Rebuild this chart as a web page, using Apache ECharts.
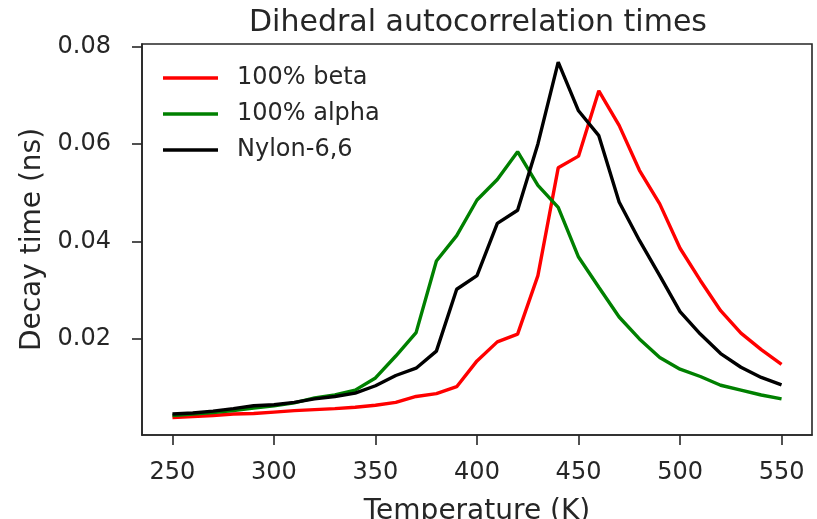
<!DOCTYPE html>
<html>
<head>
<meta charset="utf-8">
<script src="https://cdn.jsdelivr.net/npm/echarts@6/dist/echarts.min.js"></script>
<style>
  html, body { margin: 0; padding: 0; background: #fff; }
  #chart { width: 817px; height: 519px; }
</style>
</head>
<body>
<div id="chart"></div>
<script>
const temps = [250, 260, 270, 280, 290, 300, 310, 320, 330, 340, 350, 360, 370, 380, 390, 400,
  410, 420, 430, 440, 450, 460, 470, 480, 490, 500, 510, 520, 530, 540, 550];

const beta = [0.0039, 0.0041, 0.0043, 0.0046, 0.0047, 0.0050, 0.0053, 0.0055, 0.0057, 0.0060,
  0.0064, 0.0070, 0.0082, 0.0088, 0.0102, 0.0155, 0.0194, 0.0210, 0.0330, 0.0551,
  0.0575, 0.0709, 0.0638, 0.0546, 0.0477, 0.0386, 0.0320, 0.0258, 0.0212, 0.0178, 0.0148];

const alpha = [0.0043, 0.0046, 0.0049, 0.0053, 0.0058, 0.0063, 0.0069, 0.0079, 0.0085, 0.0095,
  0.0120, 0.0165, 0.0213, 0.0360, 0.0412, 0.0485, 0.0527, 0.0584, 0.0515, 0.0470,
  0.0368, 0.0306, 0.0245, 0.0200, 0.0162, 0.0138, 0.0123, 0.0105, 0.0095, 0.0085, 0.0077];

const nylon = [0.0046, 0.0048, 0.0052, 0.0057, 0.0063, 0.0065, 0.0070, 0.0077, 0.0082, 0.0089,
  0.0104, 0.0125, 0.0140, 0.0175, 0.0302, 0.0330, 0.0437, 0.0464, 0.0600, 0.0768,
  0.0668, 0.0617, 0.0481, 0.0402, 0.0330, 0.0256, 0.0210, 0.0170, 0.0142, 0.0121, 0.0106];

const xTicks = [250, 300, 350, 400, 450, 500, 550];
const yTicks = [0.02, 0.04, 0.06, 0.08];

const seriesDefs = [
  { name: "100% beta", data: beta, color: "#ff0000" },
  { name: "100% alpha", data: alpha, color: "#008000" },
  { name: "Nylon-6,6", data: nylon, color: "#000000" },
];

const ink = "#262626";
const font = "DejaVu Sans";

const chart = echarts.init(document.getElementById("chart"), null, { renderer: "canvas" });
chart.setOption({
  animation: false,
  textStyle: { fontFamily: font },
  title: {
    text: "Dihedral autocorrelation times",
    left: 478,
    top: 8,
    padding: 0,
    textAlign: "center",
    textStyle: { fontFamily: font, fontSize: 30, fontWeight: "normal", color: ink },
  },
  legend: {
    orient: "vertical",
    left: 163,
    top: 65,
    padding: 0,
    itemGap: 10,
    itemWidth: 55,
    itemHeight: 3.5,
    icon: "rect",
    data: seriesDefs.map((s) => s.name),
    textStyle: {
      fontFamily: font,
      fontSize: 24,
      lineHeight: 26,
      color: ink,
      padding: [0, 0, 0, 14],
    },
  },
  grid: {
    left: 142,
    right: 5,
    top: 44,
    bottom: 84,
    outerBoundsMode: "none",
    show: true,
    borderColor: ink,
    borderWidth: 1.6,
  },
  xAxis: {
    type: "value",
    min: 235,
    max: 565,
    name: "Temperature (K)",
    nameLocation: "middle",
    nameGap: 63,
    nameTextStyle: { fontFamily: font, fontSize: 28, color: ink },
    axisLine: { show: true, lineStyle: { color: ink, width: 1.6 } },
    axisTick: { show: true, length: 10, customValues: xTicks, lineStyle: { color: ink, width: 1.6 } },
    axisLabel: {
      customValues: xTicks,
      margin: 26,
      fontFamily: font,
      fontSize: 24,
      color: ink,
    },
    splitLine: { show: false },
  },
  yAxis: {
    type: "value",
    min: 0.0003,
    max: 0.0805,
    name: "Decay time (ns)",
    nameLocation: "middle",
    nameGap: 92,
    nameTextStyle: { fontFamily: font, fontSize: 28, color: ink },
    axisLine: { show: true, lineStyle: { color: ink, width: 1.6 } },
    axisTick: { show: true, length: 10, customValues: yTicks, lineStyle: { color: ink, width: 1.6 } },
    axisLabel: {
      customValues: yTicks,
      margin: 31,
      fontFamily: font,
      fontSize: 24,
      color: ink,
      formatter: (v) => v.toFixed(2),
    },
    splitLine: { show: false },
  },
  series: seriesDefs.map((s) => ({
    name: s.name,
    type: "line",
    data: temps.map((t, i) => [t, s.data[i]]),
    symbol: "none",
    color: s.color,
    lineStyle: { color: s.color, width: 3.4 },
    z: 2,
  })),
});
</script>
</body>
</html>
